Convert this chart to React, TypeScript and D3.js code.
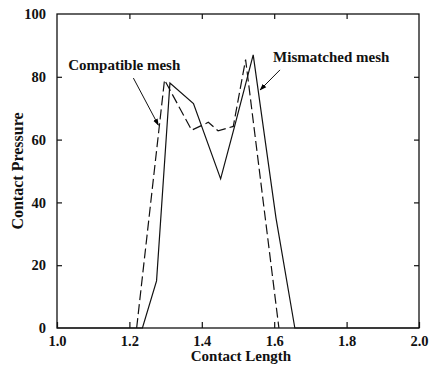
import React, { useEffect, useRef } from 'react';
import * as d3 from 'd3';

// series
const mismatchedX = [1.0, 1.236, 1.275, 1.312, 1.377, 1.452, 1.49, 1.542, 1.605, 1.657, 2.0];
const mismatchedY = [0, 0, 15, 78, 71.5, 47.5, 64, 87, 35, 0, 0];
const compatibleX = [1.22, 1.297, 1.372, 1.418, 1.445, 1.487, 1.521, 1.613];
const compatibleY = [0, 79, 63, 65.5, 62.8, 64.2, 85.5, 0];

const xTicks = [1.0, 1.2, 1.4, 1.6, 1.8, 2.0];
const yTicks = [0, 20, 40, 60, 80, 100];

const W = 436;
const H = 367;
const margin = { top: 14, right: 17, bottom: 39, left: 57 };
const font = '"Liberation Serif", "Times New Roman", serif';

const App: React.FC = () => {
  const svgRef = useRef<SVGSVGElement | null>(null);

  useEffect(() => {
    if (!svgRef.current) return;
    const svg = d3.select(svgRef.current);
    svg.selectAll('*').remove();

    const innerW = W - margin.left - margin.right;
    const innerH = H - margin.top - margin.bottom;

    const x = d3.scaleLinear().domain([1, 2]).range([0, innerW]);
    const y = d3.scaleLinear().domain([0, 100]).range([innerH, 0]);

    const defs = svg.append('defs');
    defs.append('marker')
      .attr('id', 'arrow')
      .attr('viewBox', '0 0 10 10')
      .attr('refX', 9)
      .attr('refY', 5)
      .attr('markerWidth', 7)
      .attr('markerHeight', 7)
      .attr('orient', 'auto')
      .append('path')
      .attr('d', 'M0,1.5 L10,5 L0,8.5 Z')
      .attr('fill', '#000');

    const g = svg.append('g').attr('transform', `translate(${margin.left},${margin.top})`);

    // frame
    g.append('rect')
      .attr('width', innerW)
      .attr('height', innerH)
      .attr('fill', 'none')
      .attr('stroke', '#111')
      .attr('stroke-width', 1.3);

    // inward ticks on all sides
    const bottom = g.append('g').attr('transform', `translate(0,${innerH})`)
      .call(d3.axisBottom(x).tickValues(xTicks).tickSizeInner(-6).tickSizeOuter(0).tickPadding(8).tickFormat(d3.format('.1f')));
    const top = g.append('g')
      .call(d3.axisTop(x).tickValues(xTicks.slice(1, -1)).tickSizeInner(-5).tickSizeOuter(0).tickFormat(() => ''));
    const left = g.append('g')
      .call(d3.axisLeft(y).tickValues(yTicks).tickSizeInner(-5).tickSizeOuter(0).tickPadding(11));
    const right = g.append('g').attr('transform', `translate(${innerW},0)`)
      .call(d3.axisRight(y).tickValues(yTicks.slice(1, -1)).tickSizeInner(-5).tickSizeOuter(0).tickFormat(() => ''));

    [bottom, top, left, right].forEach((a) => {
      a.select('.domain').remove();
      a.selectAll('.tick line').attr('stroke', '#111').attr('stroke-width', 1.2);
      a.selectAll('text')
        .attr('fill', '#111')
        .style('font-family', font)
        .style('font-weight', 'bold')
        .style('font-size', '14.5px');
    });
    left.selectAll('.tick line').filter((d) => d === 0 || d === 100).remove();

    const line = d3.line<[number, number]>()
      .x((d) => x(d[0]))
      .y((d) => y(d[1]));

    const mismatched = mismatchedX.map((v, i) => [v, mismatchedY[i]] as [number, number]);
    const compatible = compatibleX.map((v, i) => [v, compatibleY[i]] as [number, number]);

    g.append('path')
      .datum(mismatched)
      .attr('fill', 'none')
      .attr('stroke', '#111')
      .attr('stroke-width', 1.2)
      .attr('d', line);

    g.append('path')
      .datum(compatible)
      .attr('fill', 'none')
      .attr('stroke', '#111')
      .attr('stroke-width', 1.2)
      .attr('stroke-dasharray', '10,4')
      .attr('d', line);

    // annotations
    const label = (tx: number, ty: number, text: string) =>
      g.append('text')
        .attr('x', x(tx))
        .attr('y', y(ty))
        .attr('fill', '#111')
        .style('font-family', font)
        .style('font-weight', 'bold')
        .style('font-size', '15px')
        .text(text);
    const arrow = (x1: number, y1: number, x2: number, y2: number) =>
      g.append('line')
        .attr('x1', x(x1)).attr('y1', y(y1))
        .attr('x2', x(x2)).attr('y2', y(y2))
        .attr('stroke', '#111')
        .attr('stroke-width', 1)
        .attr('marker-end', 'url(#arrow)');

    label(1.031, 82.2, 'Compatible mesh');
    arrow(1.211, 79.6, 1.28, 64.6);
    label(1.597, 84.7, 'Mismatched mesh');
    arrow(1.616, 82.2, 1.561, 75.8);

    // axis titles
    svg.append('text')
      .attr('x', 241)
      .attr('y', 361)
      .attr('text-anchor', 'middle')
      .attr('fill', '#111')
      .style('font-family', font)
      .style('font-weight', 'bold')
      .style('font-size', '15px')
      .text('Contact Length');

    svg.append('text')
      .attr('transform', `translate(23,171) rotate(-90)`)
      .attr('text-anchor', 'middle')
      .attr('fill', '#111')
      .style('font-family', font)
      .style('font-weight', 'bold')
      .style('font-size', '16px')
      .text('Contact Pressure');
  }, []);

  return (
    <svg
      ref={svgRef}
      width={W}
      height={H}
      style={{ position: 'absolute', left: 0, top: 0, background: '#fff' }}
    />
  );
};

export default App;
